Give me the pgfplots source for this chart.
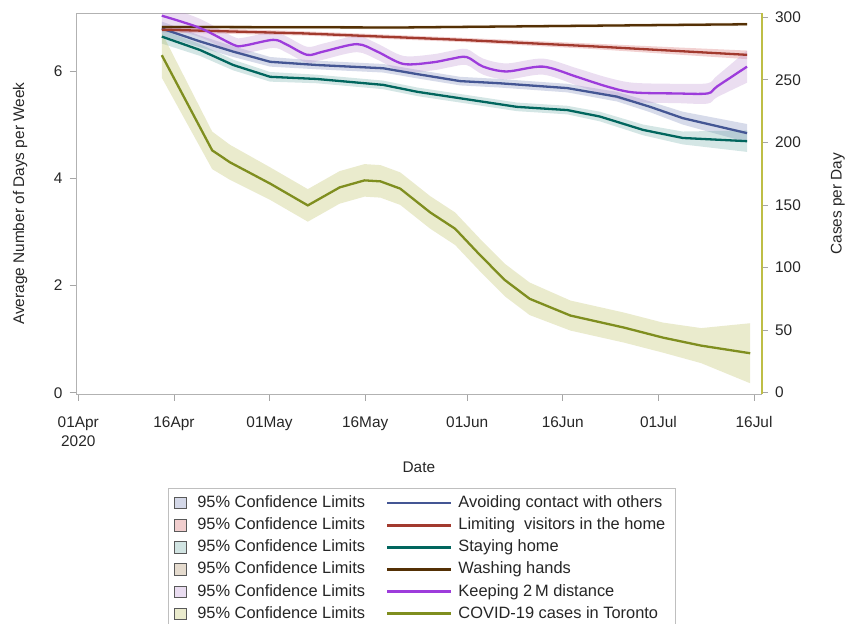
\documentclass[border=0pt]{standalone}
\usepackage{fontspec}
\setmainfont{Liberation Sans}
\usepackage{pgfplots}
\pgfplotsset{compat=1.18}
\usepackage{pgfplotstable}
\usepgfplotslibrary{fillbetween}

\definecolor{c1}{HTML}{445694}\definecolor{f1}{HTML}{6F7EB3}
\definecolor{c2}{HTML}{A23A2E}\definecolor{f2}{HTML}{D05B5B}
\definecolor{c3}{HTML}{01665E}\definecolor{f3}{HTML}{66A5A0}
\definecolor{c4}{HTML}{543005}\definecolor{f4}{HTML}{A9865B}
\definecolor{c5}{HTML}{9D3CDB}\definecolor{f5}{HTML}{B689CD}
\definecolor{c6}{HTML}{7F8E1F}\definecolor{f6}{HTML}{BABC5A}
\definecolor{olivel}{RGB}{190,190,70}

\pgfplotstableread{
x y lo hi
13.1 6.79 6.66 6.92
19.1 6.55 6.44 6.66
24.3 6.36 6.26 6.46
30.1 6.17 6.08 6.26
37.5 6.11 6.03 6.19
47.8 6.05 5.97 6.13
53.2 5.94 5.86 6.02
59.9 5.81 5.73 5.89
66.1 5.77 5.69 5.85
76.7 5.68 5.60 5.76
84.5 5.52 5.43 5.61
89.7 5.33 5.23 5.43
94.8 5.12 5.00 5.24
104.9 4.84 4.67 5.01
}\tblue

\pgfplotstableread{
x y lo hi
13.1 6.77 6.72 6.82
35.3 6.70 6.66 6.74
59.9 6.58 6.54 6.62
80.5 6.46 6.41 6.51
104.9 6.30 6.22 6.38
}\tred

\pgfplotstableread{
x y lo hi
13.1 6.64 6.51 6.77
19.1 6.39 6.28 6.50
24.3 6.11 6.01 6.21
30.1 5.89 5.80 5.98
37.4 5.85 5.77 5.93
47.8 5.74 5.66 5.82
53.2 5.61 5.53 5.69
59.9 5.49 5.41 5.57
68.8 5.33 5.25 5.41
76.7 5.27 5.19 5.35
81.8 5.15 5.06 5.24
88.6 4.90 4.80 5.00
94.8 4.75 4.63 4.87
104.9 4.69 4.49 4.89
}\tgreen

\pgfplotstableread{
x y lo hi
13.1 6.82 6.79 6.85
50.4 6.81 6.78 6.84
104.9 6.87 6.84 6.90
}\tbrown

\pgfplotstableread{
x y lo hi
13.1 7.03 6.83 7.23
19.1 6.80 6.63 6.97
24.3 6.49 6.34 6.64
25.9 6.47 6.32 6.62
30.6 6.58 6.43 6.73
32.7 6.49 6.34 6.64
35.9 6.30 6.15 6.45
38.4 6.36 6.21 6.51
43.7 6.50 6.35 6.65
46.9 6.36 6.21 6.51
51.0 6.13 5.98 6.28
55.6 6.16 6.01 6.31
58.3 6.22 6.07 6.37
60.9 6.26 6.11 6.41
63.5 6.08 5.93 6.23
67.2 5.99 5.84 6.14
72.9 6.08 5.93 6.23
78.2 5.89 5.73 6.05
82.9 5.71 5.54 5.88
87.0 5.60 5.42 5.78
93.8 5.58 5.40 5.76
98.7 5.58 5.39 5.77
100.2 5.71 5.51 5.91
104.9 6.08 5.78 6.38
}\tpurple

\pgfplotstableread{
x y lo hi
13.1 269.6 251.6 287.6
21.0 193.6 178.6 208.6
23.8 184.0 170.0 198.0
30.1 167.0 154.0 180.0
36.0 149.6 136.6 162.6
41.0 164.0 151.0 177.0
44.9 169.6 156.6 182.6
47.4 168.8 155.8 181.8
50.5 163.0 150.0 176.0
55.2 144.0 131.0 157.0
59.1 131.0 118.0 144.0
63.0 110.0 97.0 123.0
66.9 90.0 77.0 103.0
70.8 75.0 62.0 88.0
77.2 61.6 49.6 73.6
85.6 52.0 40.0 64.0
91.7 44.0 32.0 56.0
97.7 37.6 23.6 51.6
105.4 31.5 7.5 55.5
}\tolive

\begin{document}
\begin{tikzpicture}
\begin{axis}[
  scale only axis, width=342.85pt, height=190.65pt,
  xmin=-0.36, xmax=107.2, ymin=-0.03, ymax=7.08,
  axis line style={gray!60},
  tick align=outside, xtick pos=bottom, ytick pos=left,
  major tick length=3.2pt, tick style={gray!70, thin},
  xtick={0,15,30,45,61,76,91,106},
  xticklabels={{01Apr\\2020},16Apr,01May,16May,01Jun,16Jun,01Jul,16Jul},
  xticklabel style={align=center, font=\fontsize{7.7}{9.6}\selectfont, yshift=-4.5pt},
  ytick={0,2,4,6},
  yticklabel style={font=\fontsize{7.7}{9}\selectfont},
  ticklabel style={text=black!85},
  /pgf/number format/assume math mode=true,
  xlabel={Date}, ylabel={Average Number of Days per Week},
  label style={font=\fontsize{7.7}{9}\selectfont, text=black!85},
  xlabel style={at={(axis description cs:0.5,-0.191)}, anchor=center},
  ylabel style={at={(axis description cs:-0.0816,0.5)}, anchor=center},
]
% bands
\addplot[name path=b1u, draw=none, forget plot] table[x=x,y=hi]{\tblue};
\addplot[name path=b1l, draw=none, forget plot] table[x=x,y=lo]{\tblue};
\addplot[fill=f1, fill opacity=0.28, draw=none, forget plot] fill between[of=b1u and b1l];
\addplot[name path=b2u, draw=none, forget plot] table[x=x,y=hi]{\tred};
\addplot[name path=b2l, draw=none, forget plot] table[x=x,y=lo]{\tred};
\addplot[fill=f2, fill opacity=0.28, draw=none, forget plot] fill between[of=b2u and b2l];
\addplot[name path=b3u, draw=none, forget plot] table[x=x,y=hi]{\tgreen};
\addplot[name path=b3l, draw=none, forget plot] table[x=x,y=lo]{\tgreen};
\addplot[fill=f3, fill opacity=0.28, draw=none, forget plot] fill between[of=b3u and b3l];
\addplot[name path=b4u, draw=none, forget plot] table[x=x,y=hi]{\tbrown};
\addplot[name path=b4l, draw=none, forget plot] table[x=x,y=lo]{\tbrown};
\addplot[fill=f4, fill opacity=0.28, draw=none, forget plot] fill between[of=b4u and b4l];
\addplot[name path=b5u, draw=none, smooth, forget plot] table[x=x,y=hi]{\tpurple};
\addplot[name path=b5l, draw=none, smooth, forget plot] table[x=x,y=lo]{\tpurple};
\addplot[fill=f5, fill opacity=0.28, draw=none, forget plot] fill between[of=b5u and b5l];
% lines
\addplot[c1, line width=1.15pt, forget plot] table[x=x,y=y]{\tblue};
\addplot[c2, line width=1.15pt, forget plot] table[x=x,y=y]{\tred};
\addplot[c3, line width=1.15pt, forget plot] table[x=x,y=y]{\tgreen};
\addplot[c4, line width=1.15pt, forget plot] table[x=x,y=y]{\tbrown};
\addplot[c5, line width=1.15pt, smooth, forget plot] table[x=x,y=y]{\tpurple};
\end{axis}

\begin{axis}[
  scale only axis, width=342.85pt, height=190.65pt,
  xmin=-0.36, xmax=107.2, ymin=-1.3, ymax=303.3,
  axis x line=none, axis y line*=right,
  y axis line style={olivel, line width=0.8pt},
  ytick={0,50,100,150,200,250,300},
  tick align=outside, major tick length=3.2pt, ytick style={gray!70, thin},
  yticklabel style={font=\fontsize{7.7}{9}\selectfont, text=black!85},
  /pgf/number format/assume math mode=true,
  ylabel={Cases per Day},
  ylabel style={font=\fontsize{7.7}{9}\selectfont, text=black!85, at={(axis description cs:1.111,0.5)}, anchor=center},
  legend columns=2, legend cell align=left,
  legend style={at={(0.1341,-0.2467)}, anchor=north west, draw=gray!50,
    inner ysep=1.5pt, row sep=-0.4pt,
    font=\fontsize{8.2}{9.6}\selectfont, text=black!85,
    /tikz/every odd column/.append style={column sep=1pt},
    /tikz/every even column/.append style={column sep=8.5pt}},
]
\addplot[name path=b6u, draw=none, forget plot] table[x=x,y=hi]{\tolive};
\addplot[name path=b6l, draw=none, forget plot] table[x=x,y=lo]{\tolive};
\addplot[fill=f6, fill opacity=0.3, draw=none, forget plot] fill between[of=b6u and b6l];
\addplot[c6, line width=1.15pt, forget plot] table[x=x,y=y]{\tolive};

\addlegendimage{legend image code/.code={\draw[draw=black!65,fill=f1!30] (0pt,-2.8pt) rectangle (5.6pt,2.8pt); \path (8.1pt,0pt);}}
\addlegendentry{95\% Confidence Limits}
\addlegendimage{legend image code/.code={\draw[c1,line width=1.2pt] (0pt,0pt) -- (32pt,0pt);}}
\addlegendentry{Avoiding contact with others}
\addlegendimage{legend image code/.code={\draw[draw=black!65,fill=f2!30] (0pt,-2.8pt) rectangle (5.6pt,2.8pt); \path (8.1pt,0pt);}}
\addlegendentry{95\% Confidence Limits}
\addlegendimage{legend image code/.code={\draw[c2,line width=1.2pt] (0pt,0pt) -- (32pt,0pt);}}
\addlegendentry{Limiting~ visitors in the home}
\addlegendimage{legend image code/.code={\draw[draw=black!65,fill=f3!30] (0pt,-2.8pt) rectangle (5.6pt,2.8pt); \path (8.1pt,0pt);}}
\addlegendentry{95\% Confidence Limits}
\addlegendimage{legend image code/.code={\draw[c3,line width=1.2pt] (0pt,0pt) -- (32pt,0pt);}}
\addlegendentry{Staying home}
\addlegendimage{legend image code/.code={\draw[draw=black!65,fill=f4!30] (0pt,-2.8pt) rectangle (5.6pt,2.8pt); \path (8.1pt,0pt);}}
\addlegendentry{95\% Confidence Limits}
\addlegendimage{legend image code/.code={\draw[c4,line width=1.2pt] (0pt,0pt) -- (32pt,0pt);}}
\addlegendentry{Washing hands}
\addlegendimage{legend image code/.code={\draw[draw=black!65,fill=f5!30] (0pt,-2.8pt) rectangle (5.6pt,2.8pt); \path (8.1pt,0pt);}}
\addlegendentry{95\% Confidence Limits}
\addlegendimage{legend image code/.code={\draw[c5,line width=1.2pt] (0pt,0pt) -- (32pt,0pt);}}
\addlegendentry{Keeping 2\,M distance}
\addlegendimage{legend image code/.code={\draw[draw=black!65,fill=f6!30] (0pt,-2.8pt) rectangle (5.6pt,2.8pt); \path (8.1pt,0pt);}}
\addlegendentry{95\% Confidence Limits}
\addlegendimage{legend image code/.code={\draw[c6,line width=1.2pt] (0pt,0pt) -- (32pt,0pt);}}
\addlegendentry{COVID-19 cases in Toronto}
\end{axis}
\pgfresetboundingbox
\path[use as bounding box] (-38pt,-114.35pt) rectangle (389pt,197.15pt);
\end{tikzpicture}
\end{document}
